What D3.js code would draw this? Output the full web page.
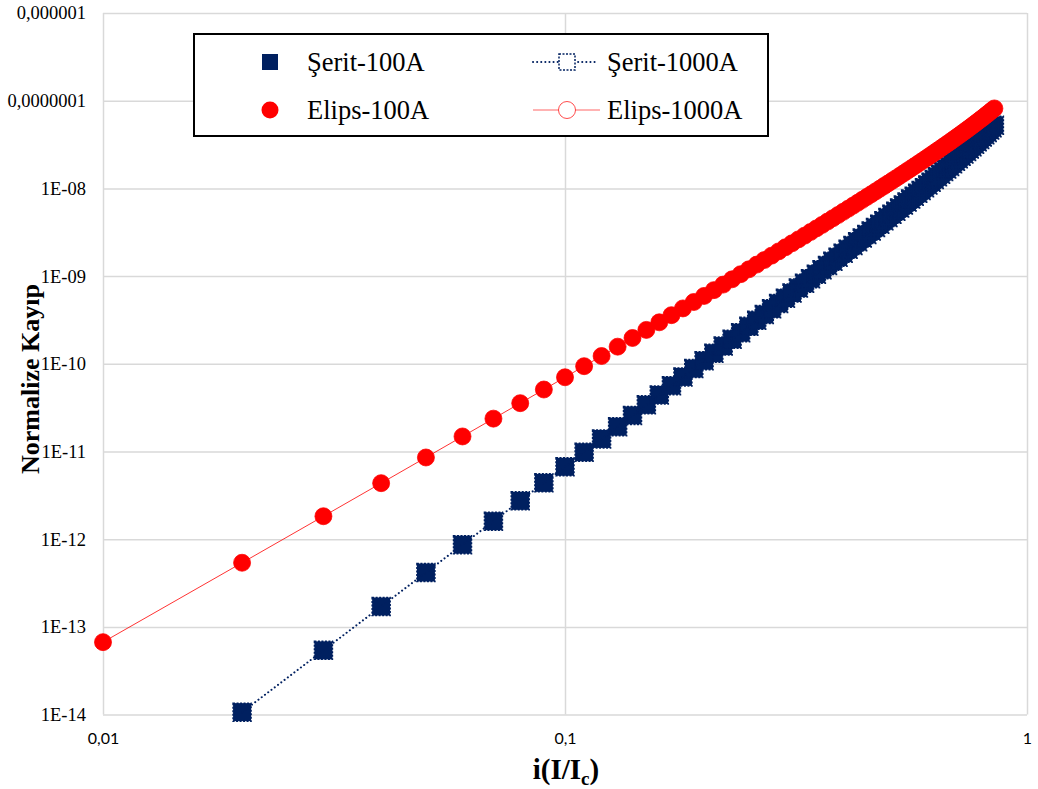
<!DOCTYPE html>
<html>
<head>
<meta charset="utf-8">
<script src="https://cdn.jsdelivr.net/npm/d3@7"></script>
<style>
  body { margin: 0; background: #fff; }
  svg { display: block; }
</style>
</head>
<body>
<div id="graphic"></div>
<script>
// current ratio i = I/Ic
var iValues = [0.01, 0.02, 0.03, 0.04, 0.05, 0.06, 0.07, 0.08, 0.09, 0.10,
  0.11, 0.12, 0.13, 0.14, 0.15, 0.16, 0.17, 0.18, 0.19, 0.20,
  0.21, 0.22, 0.23, 0.24, 0.25, 0.26, 0.27, 0.28, 0.29, 0.30,
  0.31, 0.32, 0.33, 0.34, 0.35, 0.36, 0.37, 0.38, 0.39, 0.40,
  0.41, 0.42, 0.43, 0.44, 0.45, 0.46, 0.47, 0.48, 0.49, 0.50,
  0.51, 0.52, 0.53, 0.54, 0.55, 0.56, 0.57, 0.58, 0.59, 0.60,
  0.61, 0.62, 0.63, 0.64, 0.65, 0.66, 0.67, 0.68, 0.69, 0.70,
  0.71, 0.72, 0.73, 0.74, 0.75, 0.76, 0.77, 0.78, 0.79, 0.80,
  0.81, 0.82, 0.83, 0.84, 0.85];

var seritLoss100 = [null, 1.0668e-14, 5.402e-14, 1.7078e-13, 4.171e-13, 8.652e-13, 1.6038e-12, 2.7377e-12, 4.3882e-12, 6.6935e-12,
  9.808e-12, 1.3904e-11, 1.9171e-11, 2.5813e-11, 3.4057e-11, 4.4144e-11, 5.6334e-11, 7.0907e-11, 8.8160e-11, 1.0841e-10,
  1.3200e-10, 1.5928e-10, 1.9062e-10, 2.2644e-10, 2.6715e-10, 3.1320e-10, 3.6505e-10, 4.2319e-10, 4.8814e-10, 5.6043e-10,
  6.4064e-10, 7.2936e-10, 8.2721e-10, 9.3484e-10, 1.0529e-9, 1.1822e-9, 1.3233e-9, 1.4772e-9, 1.6446e-9, 1.8263e-9,
  2.0233e-9, 2.2364e-9, 2.4667e-9, 2.7151e-9, 2.9827e-9, 3.2707e-9, 3.5801e-9, 3.9122e-9, 4.2683e-9, 4.6496e-9,
  5.0576e-9, 5.4938e-9, 5.9596e-9, 6.4567e-9, 6.9867e-9, 7.5514e-9, 8.1526e-9, 8.7924e-9, 9.4727e-9, 1.0196e-8,
  1.0964e-8, 1.1779e-8, 1.2645e-8, 1.3563e-8, 1.4536e-8, 1.5569e-8, 1.6663e-8, 1.7822e-8, 1.9050e-8, 2.0350e-8,
  2.1728e-8, 2.3187e-8, 2.4732e-8, 2.6368e-8, 2.8102e-8, 2.9938e-8, 3.1883e-8, 3.3945e-8, 3.6132e-8, 3.8452e-8,
  4.0913e-8, 4.3527e-8, 4.6306e-8, 4.9263e-8, 5.2410e-8];

var elipsLoss100 = [6.70e-14, 5.387e-13, 1.8275e-12, 4.354e-12, 8.548e-12, 1.4848e-11, 2.3702e-11, 3.5568e-11, 5.0913e-11, 7.0215e-11,
  9.396e-11, 1.2265e-10, 1.568e-10, 1.9693e-10, 2.4356e-10, 2.9726e-10, 3.5858e-10, 4.2809e-10, 5.0639e-10, 5.9406e-10,
  6.9174e-10, 8.0006e-10, 9.1966e-10, 1.0512e-9, 1.1954e-9, 1.3529e-9, 1.5245e-9, 1.7108e-9, 1.9128e-9, 2.1310e-9,
  2.3664e-9, 2.6196e-9, 2.8922e-9, 3.1838e-9, 3.4964e-9, 3.8305e-9, 4.1872e-9, 4.5671e-9, 4.9718e-9, 5.4018e-9,
  5.8586e-9, 6.3433e-9, 6.8569e-9, 7.4008e-9, 7.9758e-9, 8.5838e-9, 9.2259e-9, 9.9032e-9, 1.0618e-8, 1.1371e-8,
  1.2163e-8, 1.2998e-8, 1.3876e-8, 1.4799e-8, 1.5769e-8, 1.6787e-8, 1.7857e-8, 1.8980e-8, 2.0158e-8, 2.1393e-8,
  2.2689e-8, 2.4047e-8, 2.5471e-8, 2.6962e-8, 2.8525e-8, 3.0162e-8, 3.1876e-8, 3.3672e-8, 3.5553e-8, 3.7523e-8,
  3.9587e-8, 4.1748e-8, 4.4012e-8, 4.6384e-8, 4.8871e-8, 5.1477e-8, 5.4210e-8, 5.7077e-8, 6.0086e-8, 6.3245e-8,
  6.6564e-8, 7.0055e-8, 7.3727e-8, 7.7595e-8, 8.1673e-8];

// the 1000A curves sit exactly on top of the 100A ones in the picture
var seritLoss1000 = seritLoss100.slice();
var elipsLoss1000 = elipsLoss100.slice();

var xTicks = [0.01, 0.1, 1];
var xTickLabels = ["0,01", "0,1", "1"];
var yTicks = [1e-6, 1e-7, 1e-8, 1e-9, 1e-10, 1e-11, 1e-12, 1e-13, 1e-14];
var yTickLabels = ["0,000001", "0,0000001", "1E-08", "1E-09", "1E-10", "1E-11", "1E-12", "1E-13", "1E-14"];

var seriesNames = ["Şerit-100A", "Şerit-1000A", "Elips-100A", "Elips-1000A"];

var navy = "#002060", red = "#ff0000", grid = "#d9d9d9";
var serif = "'Liberation Serif', 'Times New Roman', serif";

var W = 1038, H = 789;
var plot = { left: 103, right: 1027, top: 13, bottom: 714.6 };

var svg = d3.select("#graphic").append("svg")
  .attr("width", W)
  .attr("height", H);

svg.append("rect").attr("width", W).attr("height", H).attr("fill", "#fff");

var x = d3.scaleLog().domain([0.01, 1]).range([plot.left, plot.right]);
var y = d3.scaleLog().domain([1e-14, 1e-6]).range([plot.bottom, plot.top]);

// gridlines
svg.append("g")
  .attr("transform", "translate(" + plot.left + ",0)")
  .call(d3.axisLeft(y).tickValues(yTicks).tickSize(-(plot.right - plot.left)).tickFormat(""))
  .call(function (g) {
    g.select(".domain").remove();
    g.selectAll("line").attr("stroke", grid).attr("stroke-width", 1.5);
  });

svg.append("g")
  .attr("transform", "translate(0," + plot.bottom + ")")
  .call(d3.axisBottom(x).tickValues(xTicks).tickSize(-(plot.bottom - plot.top)).tickFormat(""))
  .call(function (g) {
    g.select(".domain").remove();
    g.selectAll("line").attr("stroke", grid).attr("stroke-width", 1.5);
  });

// y tick labels
svg.append("g")
  .attr("transform", "translate(" + (plot.left - 14) + ",0)")
  .call(d3.axisLeft(y).tickValues(yTicks).tickSize(0).tickPadding(3)
    .tickFormat(function (d, i) { return yTickLabels[i]; }))
  .call(function (g) {
    g.select(".domain").remove();
    g.selectAll("text").attr("font-family", serif).attr("font-size", "18.5px").attr("fill", "#000");
  });

// x tick labels
svg.append("g")
  .attr("transform", "translate(0," + (plot.bottom + 15) + ")")
  .call(d3.axisBottom(x).tickValues(xTicks).tickSize(0).tickPadding(3)
    .tickFormat(function (d, i) { return xTickLabels[i]; }))
  .call(function (g) {
    g.select(".domain").remove();
    g.selectAll("text").attr("font-family", "Lato, 'Liberation Sans', sans-serif").attr("font-size", "16px").attr("fill", "#000");
  });

var seritData100 = iValues.map(function (v, i) { return { i: v, q: seritLoss100[i] }; });
var seritData1000 = iValues.map(function (v, i) { return { i: v, q: seritLoss1000[i] }; });
var elipsData100 = iValues.map(function (v, i) { return { i: v, q: elipsLoss100[i] }; });
var elipsData1000 = iValues.map(function (v, i) { return { i: v, q: elipsLoss1000[i] }; });

var line = d3.line()
  .defined(function (d) { return d.q != null; })
  .x(function (d) { return x(d.i); })
  .y(function (d) { return y(d.q); });

var sq = 18;

// Şerit-100A: filled squares, no line
svg.append("g").selectAll("rect")
  .data(seritData100.filter(function (d) { return d.q != null; }))
  .enter().append("rect")
  .attr("x", function (d) { return x(d.i) - sq / 2; })
  .attr("y", function (d) { return y(d.q) - sq / 2; })
  .attr("width", sq).attr("height", sq)
  .attr("fill", navy);

// Şerit-1000A: dotted line + dashed hollow squares
svg.append("path")
  .datum(seritData1000)
  .attr("d", line)
  .attr("fill", "none")
  .attr("stroke", navy)
  .attr("stroke-width", 2)
  .attr("stroke-linecap", "round")
  .attr("stroke-dasharray", "0.1 4");

svg.append("g").selectAll("rect")
  .data(seritData1000.filter(function (d) { return d.q != null; }))
  .enter().append("rect")
  .attr("x", function (d) { return x(d.i) - sq / 2; })
  .attr("y", function (d) { return y(d.q) - sq / 2; })
  .attr("width", sq).attr("height", sq)
  .attr("fill", "none")
  .attr("stroke", navy)
  .attr("stroke-width", 1.5)
  .attr("stroke-dasharray", "2 1.5");

// Elips-100A: filled circles
svg.append("g").selectAll("circle")
  .data(elipsData100)
  .enter().append("circle")
  .attr("cx", function (d) { return x(d.i); })
  .attr("cy", function (d) { return y(d.q); })
  .attr("r", 8.5)
  .attr("fill", red);

// Elips-1000A: thin line + hollow circles
svg.append("path")
  .datum(elipsData1000)
  .attr("d", line)
  .attr("fill", "none")
  .attr("stroke", red)
  .attr("stroke-opacity", 0.8)
  .attr("stroke-width", 1);

svg.append("g").selectAll("circle")
  .data(elipsData1000)
  .enter().append("circle")
  .attr("cx", function (d) { return x(d.i); })
  .attr("cy", function (d) { return y(d.q); })
  .attr("r", 8.5)
  .attr("fill", "none")
  .attr("stroke", red)
  .attr("stroke-width", 0.75);

// legend
var lg = svg.append("g");
lg.append("rect")
  .attr("x", 194).attr("y", 34).attr("width", 574).attr("height", 102)
  .attr("fill", "#fff").attr("stroke", "#000").attr("stroke-width", 2);

var legendRows = [62, 110];
var legendCols = [270, 567];

// Şerit-100A
lg.append("rect").attr("x", legendCols[0] - 8).attr("y", legendRows[0] - 8)
  .attr("width", 16).attr("height", 16).attr("fill", navy);
// Şerit-1000A
lg.append("line").attr("x1", legendCols[1] - 34).attr("x2", legendCols[1] + 31)
  .attr("y1", legendRows[0]).attr("y2", legendRows[0])
  .attr("stroke", navy).attr("stroke-width", 2).attr("stroke-linecap", "round")
  .attr("stroke-dasharray", "0.1 4");
lg.append("rect").attr("x", legendCols[1] - 8).attr("y", legendRows[0] - 8)
  .attr("width", 16).attr("height", 16).attr("fill", "#fff")
  .attr("stroke", navy).attr("stroke-width", 1.5).attr("stroke-dasharray", "2 1.5");
// Elips-100A
lg.append("circle").attr("cx", legendCols[0]).attr("cy", legendRows[1]).attr("r", 8.5).attr("fill", red);
// Elips-1000A
lg.append("line").attr("x1", legendCols[1] - 34).attr("x2", legendCols[1] + 33)
  .attr("y1", legendRows[1]).attr("y2", legendRows[1])
  .attr("stroke", red).attr("stroke-opacity", 0.6).attr("stroke-width", 1);
lg.append("circle").attr("cx", legendCols[1]).attr("cy", legendRows[1]).attr("r", 8.5)
  .attr("fill", "#fff").attr("stroke", red).attr("stroke-opacity", 0.7).attr("stroke-width", 1);

var legendText = [
  { t: seriesNames[0], x: 307, y: legendRows[0] },
  { t: seriesNames[1], x: 607, y: legendRows[0] },
  { t: seriesNames[2], x: 307, y: legendRows[1] },
  { t: seriesNames[3], x: 607, y: legendRows[1] }
];
lg.selectAll("text.leg")
  .data(legendText)
  .enter().append("text")
  .attr("class", "leg")
  .attr("x", function (d) { return d.x; })
  .attr("y", function (d) { return d.y + 9; })
  .attr("font-family", serif)
  .attr("font-size", "26.5px")
  .text(function (d) { return d.t; });

// axis titles
var xt = svg.append("text")
  .attr("x", 566)
  .attr("y", 779)
  .attr("text-anchor", "middle")
  .attr("font-family", serif)
  .attr("font-size", "29px")
  .attr("font-weight", "bold");
xt.append("tspan").text("i(I/I");
xt.append("tspan").attr("font-size", "19px").attr("dy", 6).text("c");
xt.append("tspan").attr("dy", -6).text(")");

svg.append("text")
  .attr("transform", "translate(39,379) rotate(-90)")
  .attr("text-anchor", "middle")
  .attr("font-family", serif)
  .attr("font-size", "26px")
  .attr("font-weight", "bold")
  .text("Normalize Kayıp");
</script>
</body>
</html>
